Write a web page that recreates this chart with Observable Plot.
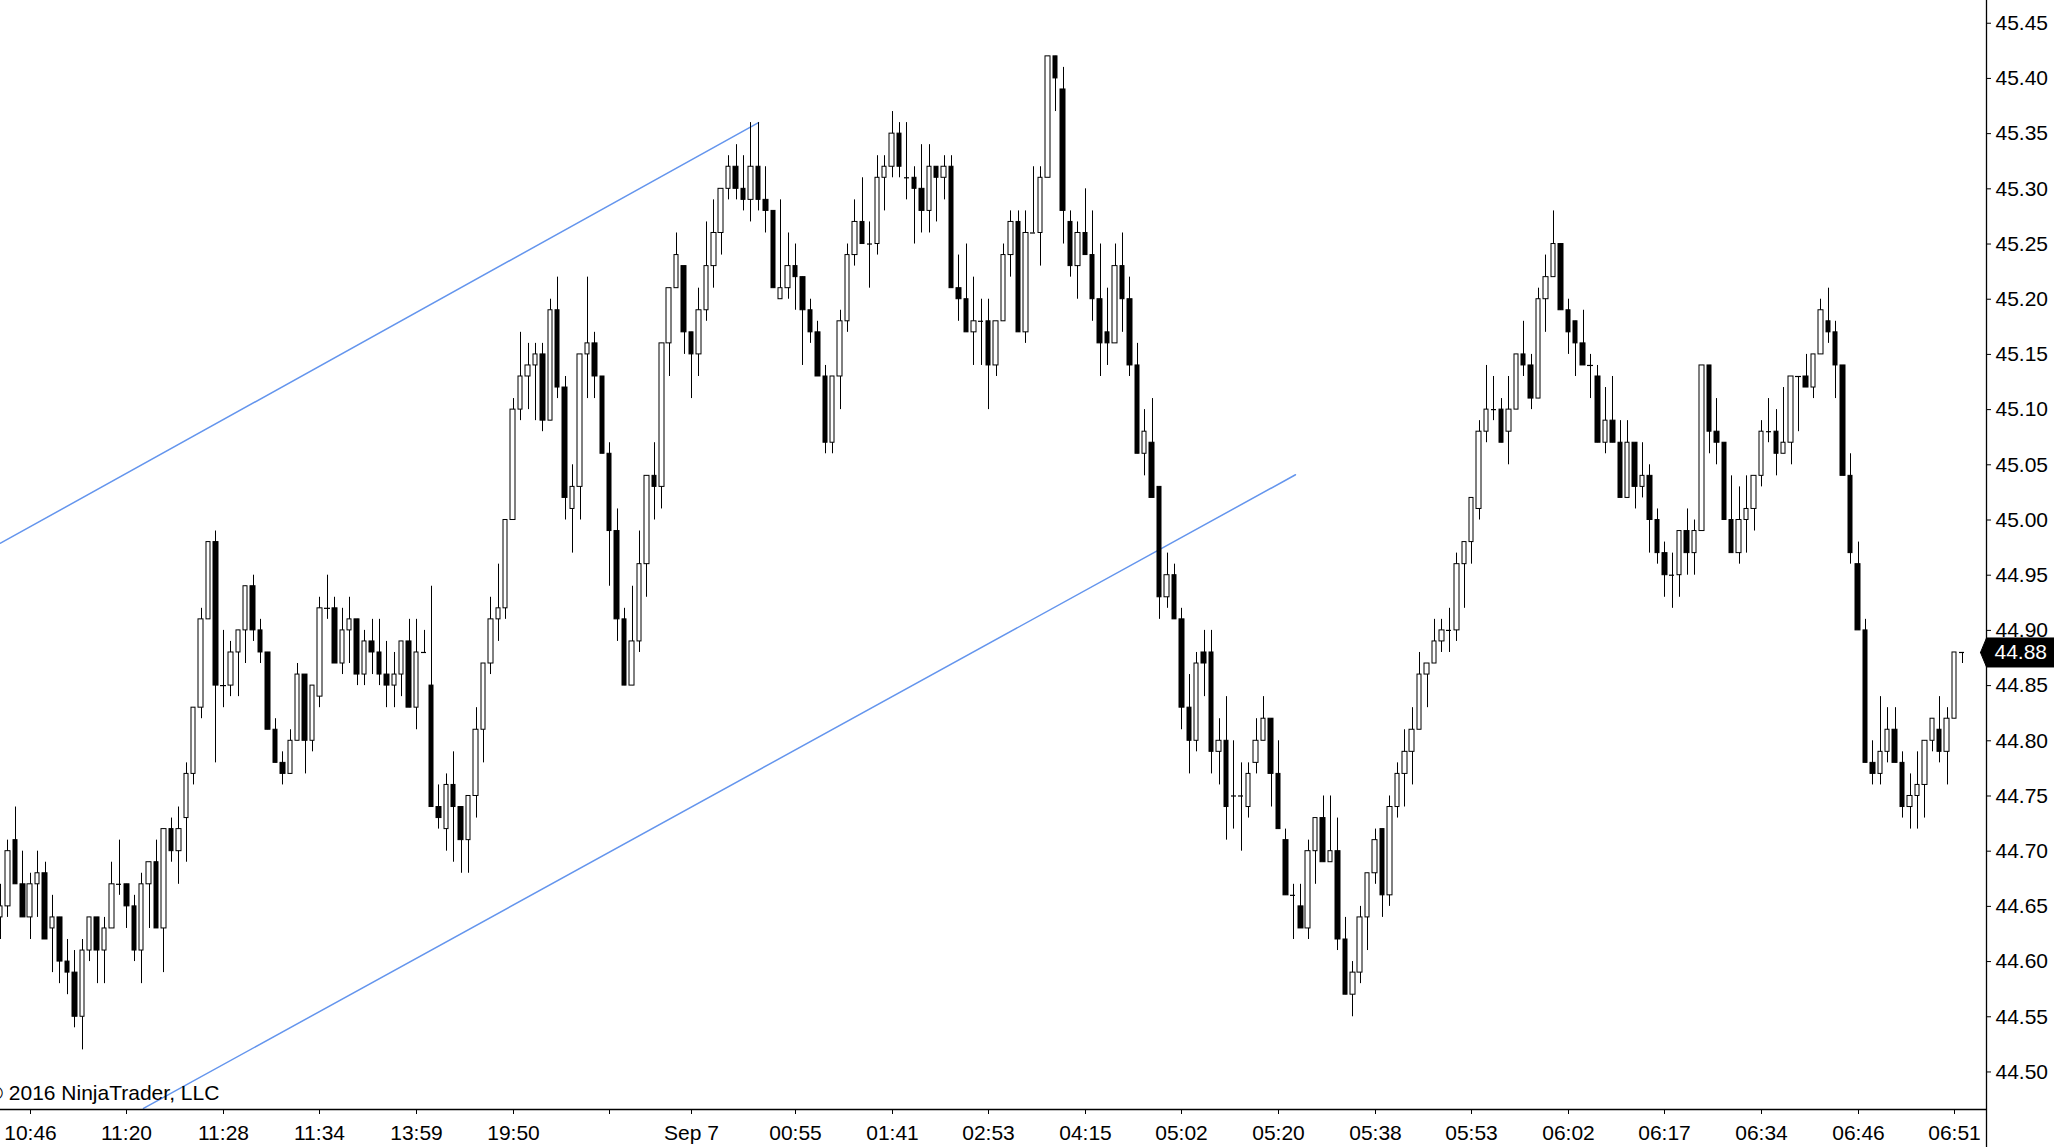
<!DOCTYPE html>
<html>
<head>
<meta charset="utf-8">
<script src="https://cdn.jsdelivr.net/npm/d3@7"></script>
<script src="https://cdn.jsdelivr.net/npm/@observablehq/plot@0.6"></script>
<style>
  html, body { margin: 0; padding: 0; background: #fff; }
  #chart svg { display: block; }
</style>
</head>
<body>
<div id="chart"></div>
<script>
// ---- Candle data (bar index = position in arrays) ----
const opens = [44.64,44.65,44.71,44.67,44.64,44.67,44.68,44.63,44.64,44.60,44.59,44.55,44.61,44.64,44.61,44.63,44.67,44.67,44.65,44.61,
44.67,44.69,44.63,44.72,44.70,44.73,44.77,44.83,44.91,44.98,44.85,44.85,44.88,44.90,44.94,44.90,44.88,44.81,44.78,44.77,
44.80,44.86,44.80,44.84,44.92,44.92,44.87,44.90,44.91,44.86,44.89,44.88,44.86,44.85,44.86,44.89,44.83,44.88,44.85,44.74,
44.72,44.76,44.74,44.71,44.75,44.81,44.87,44.91,44.92,45.00,45.10,45.13,45.14,45.15,45.09,45.19,45.12,45.01,45.03,45.15,
45.16,45.13,45.06,44.99,44.91,44.85,44.89,44.96,45.04,45.03,45.16,45.21,45.23,45.17,45.15,45.19,45.23,45.26,45.30,45.32,
45.30,45.29,45.32,45.29,45.28,45.20,45.21,45.23,45.22,45.19,45.17,45.13,45.07,45.13,45.18,45.24,45.27,45.25,45.25,45.31,
45.32,45.35,45.31,45.31,45.30,45.28,45.32,45.31,45.32,45.21,45.20,45.17,45.18,45.18,45.14,45.18,45.24,45.27,45.17,45.26,
45.26,45.31,45.42,45.39,45.27,45.23,45.26,45.24,45.20,45.17,45.16,45.23,45.20,45.14,45.06,45.07,45.03,44.93,44.95,44.91,
44.83,44.80,44.88,44.88,44.79,44.80,44.75,44.75,44.74,44.78,44.80,44.82,44.77,44.71,44.66,44.65,44.63,44.70,44.73,44.69,
44.70,44.62,44.57,44.59,44.64,44.68,44.72,44.66,44.74,44.77,44.79,44.81,44.86,44.87,44.89,44.90,44.90,44.96,44.98,45.01,
45.08,45.10,45.10,45.08,45.10,45.15,45.14,45.11,45.20,45.22,45.25,45.19,45.18,45.16,45.14,45.13,45.07,45.09,45.07,45.02,
45.07,45.03,45.04,45.00,44.97,44.95,44.95,44.99,44.97,44.99,45.14,45.08,45.07,45.00,44.97,45.00,45.01,45.04,45.08,45.08,
45.06,45.07,45.13,45.13,45.12,45.15,45.18,45.17,45.14,45.04,44.96,44.90,44.78,44.77,44.79,44.81,44.78,44.74,44.75,44.76,
44.80,44.81,44.79,44.82,44.88];
const highs = [44.67,44.71,44.74,44.70,44.68,44.70,44.69,44.66,44.64,44.62,44.61,44.62,44.64,44.64,44.64,44.69,44.71,44.67,44.66,44.68,
44.69,44.71,44.72,44.73,44.74,44.78,44.83,44.92,44.98,44.99,44.90,44.89,44.90,44.94,44.95,44.91,44.88,44.82,44.79,44.81,
44.87,44.86,44.85,44.93,44.95,44.93,44.92,44.93,44.91,44.90,44.91,44.91,44.89,44.88,44.89,44.91,44.91,44.90,44.94,44.76,
44.77,44.79,44.74,44.75,44.83,44.87,44.93,44.96,45.00,45.11,45.17,45.16,45.16,45.16,45.20,45.22,45.13,45.05,45.15,45.22,
45.17,45.13,45.07,45.01,44.92,44.94,44.99,45.04,45.07,45.16,45.21,45.26,45.23,45.17,45.21,45.27,45.29,45.30,45.33,45.34,
45.33,45.36,45.36,45.32,45.28,45.29,45.26,45.25,45.22,45.20,45.18,45.14,45.13,45.19,45.25,45.29,45.31,45.27,45.33,45.33,
45.37,45.36,45.36,45.32,45.34,45.34,45.32,45.33,45.33,45.24,45.25,45.22,45.20,45.20,45.18,45.25,45.28,45.28,45.28,45.32,
45.32,45.42,45.42,45.41,45.28,45.27,45.30,45.28,45.25,45.21,45.25,45.26,45.22,45.16,45.10,45.11,45.03,44.97,44.96,44.92,
44.86,44.88,44.90,44.90,44.82,44.84,44.80,44.78,44.78,44.82,44.84,44.82,44.80,44.72,44.67,44.67,44.71,44.73,44.75,44.75,
44.73,44.64,44.60,44.65,44.68,44.72,44.72,44.75,44.78,44.81,44.83,44.88,44.87,44.91,44.91,44.92,44.97,44.98,45.02,45.09,
45.14,45.13,45.11,45.13,45.15,45.18,45.15,45.21,45.24,45.28,45.25,45.20,45.18,45.19,45.15,45.14,45.12,45.13,45.09,45.09,
45.07,45.07,45.05,45.01,44.98,44.97,44.99,45.01,45.00,45.14,45.14,45.11,45.07,45.04,45.03,45.04,45.04,45.09,45.11,45.10,
45.12,45.13,45.13,45.15,45.15,45.20,45.21,45.18,45.14,45.06,44.98,44.91,44.80,44.84,44.83,44.83,44.79,44.77,44.79,44.80,
44.82,44.84,44.83,44.88,44.88];
const lows = [44.62,44.64,44.67,44.64,44.62,44.64,44.62,44.59,44.58,44.57,44.54,44.52,44.60,44.58,44.58,44.63,44.66,44.63,44.60,44.58,
44.63,44.63,44.59,44.69,44.67,44.69,44.76,44.82,44.91,44.78,44.83,44.84,44.84,44.87,44.89,44.87,44.81,44.78,44.76,44.77,
44.80,44.77,44.79,44.83,44.91,44.87,44.86,44.87,44.85,44.85,44.86,44.85,44.83,44.83,44.84,44.83,44.81,44.88,44.74,44.72,
44.70,44.69,44.68,44.68,44.73,44.78,44.86,44.89,44.91,45.00,45.09,45.10,45.09,45.08,45.09,45.11,45.00,44.97,45.00,45.11,
45.11,45.06,44.94,44.89,44.85,44.85,44.88,44.93,45.00,45.01,45.13,45.21,45.15,45.11,45.13,45.18,45.21,45.24,45.29,45.29,
45.28,45.27,45.28,45.26,45.21,45.20,45.20,45.19,45.14,45.16,45.13,45.06,45.06,45.10,45.17,45.23,45.25,45.21,45.24,45.28,
45.31,45.31,45.29,45.25,45.26,45.26,45.27,45.29,45.21,45.18,45.17,45.14,45.14,45.10,45.13,45.18,45.22,45.17,45.16,45.26,
45.23,45.31,45.37,45.25,45.22,45.20,45.24,45.18,45.13,45.14,45.16,45.17,45.13,45.06,45.04,45.02,44.91,44.92,44.91,44.81,
44.77,44.79,44.84,44.77,44.76,44.71,44.72,44.70,44.73,44.77,44.80,44.74,44.72,44.66,44.62,44.63,44.62,44.67,44.69,44.69,
44.61,44.57,44.55,44.58,44.61,44.67,44.64,44.65,44.73,44.74,44.76,44.81,44.83,44.87,44.88,44.88,44.89,44.92,44.96,45.00,
45.07,45.09,45.07,45.05,45.10,45.13,45.10,45.11,45.17,45.22,45.19,45.15,45.13,45.14,45.11,45.07,45.06,45.07,45.02,45.02,
45.01,45.02,44.97,44.96,44.93,44.92,44.93,44.95,44.95,44.99,45.06,45.05,45.00,44.97,44.96,44.97,44.99,45.03,45.07,45.04,
45.06,45.05,45.08,45.12,45.11,45.15,45.16,45.11,45.04,44.96,44.90,44.78,44.76,44.76,44.78,44.78,44.73,44.72,44.72,44.73,
44.79,44.78,44.76,44.82,44.87];
const closes = [44.65,44.70,44.67,44.64,44.67,44.68,44.62,44.64,44.60,44.59,44.55,44.61,44.64,44.61,44.63,44.67,44.67,44.65,44.61,44.67,
44.69,44.63,44.72,44.70,44.72,44.77,44.83,44.91,44.98,44.85,44.85,44.88,44.90,44.94,44.90,44.88,44.81,44.78,44.77,44.80,
44.86,44.80,44.85,44.92,44.92,44.87,44.90,44.91,44.86,44.89,44.88,44.86,44.85,44.86,44.89,44.83,44.88,44.88,44.74,44.73,
44.76,44.74,44.71,44.75,44.81,44.87,44.91,44.92,45.00,45.10,45.13,45.14,45.15,45.09,45.19,45.12,45.02,45.03,45.15,45.16,
45.13,45.06,44.99,44.91,44.85,44.89,44.96,45.04,45.03,45.16,45.21,45.24,45.17,45.15,45.19,45.23,45.26,45.30,45.32,45.30,
45.29,45.32,45.29,45.28,45.21,45.21,45.23,45.22,45.19,45.17,45.13,45.07,45.13,45.18,45.24,45.27,45.25,45.25,45.31,45.32,
45.35,45.32,45.31,45.30,45.28,45.32,45.31,45.32,45.21,45.20,45.17,45.18,45.18,45.14,45.18,45.24,45.27,45.17,45.26,45.26,
45.31,45.42,45.40,45.28,45.23,45.26,45.24,45.20,45.16,45.16,45.23,45.20,45.14,45.06,45.08,45.02,44.93,44.95,44.91,44.83,
44.80,44.87,44.87,44.79,44.80,44.74,44.75,44.75,44.77,44.80,44.82,44.77,44.72,44.66,44.66,44.63,44.70,44.73,44.69,44.70,
44.62,44.57,44.59,44.64,44.68,44.71,44.66,44.74,44.77,44.79,44.81,44.86,44.87,44.89,44.90,44.90,44.96,44.98,45.02,45.08,
45.10,45.10,45.07,45.10,45.15,45.14,45.11,45.20,45.22,45.25,45.19,45.17,45.16,45.14,45.14,45.07,45.09,45.07,45.02,45.07,
45.03,45.04,45.00,44.97,44.95,44.95,44.99,44.97,44.99,45.14,45.08,45.07,45.00,44.97,45.00,45.01,45.04,45.08,45.08,45.06,
45.07,45.13,45.13,45.12,45.15,45.19,45.17,45.14,45.04,44.97,44.90,44.78,44.77,44.79,44.81,44.78,44.74,44.75,44.76,44.80,
44.82,44.79,44.82,44.88,44.88];

// ---- Axis ticks ----
const timeTickBars = [4,17,30,43,56,69,82,93,107,120,133,146,159,172,185,198,211,224,237,250,263];
const timeTickLabels = ["10:46","11:20","11:28","11:34","13:59","19:50","","Sep 7","00:55","01:41","02:53","04:15","05:02","05:20","05:38","05:53","06:02","06:17","06:34","06:46","06:51"];
const priceTicks = [44.50,44.55,44.60,44.65,44.70,44.75,44.80,44.85,44.90,44.95,45.00,45.05,45.10,45.15,45.20,45.25,45.30,45.35,45.40,45.45];

// ---- Drawn channel lines (bar index, price) ----
const channelUpper = [{bar: 0, price: 44.979}, {bar: 102, price: 45.36}];
const channelLower = [{bar: 19.3, price: 44.467}, {bar: 174.3, price: 45.041}];

const lastPrice = closes[closes.length - 1];
const copyright = "© 2016 NinjaTrader, LLC";

// ---- Build table ----
const bars = opens.map((o, i) => ({i, o, h: highs[i], l: lows[i], c: closes[i]}));
const bodies = bars.filter(d => d.o !== d.c);
const dojis = bars.filter(d => d.o === d.c);
const labelOf = new Map(timeTickBars.map((b, k) => [b, timeTickLabels[k]]));

const W = 2054, H = 1147, mR = 68, mB = 38;
const xMax = 267.29;              // bars visible across the plot frame
const yMin = 44.466, yMax = 45.4706;
const unitsPerPx = (yMax - yMin) / (H - mB);
const xUnitsPerPx = xMax / (W - mR);
const half = 0.3;

// price marker polygon (arrow box on the axis)
const boxH = 14.5 * unitsPerPx;
const marker = [
  {x: xMax - 6 * xUnitsPerPx, y: lastPrice},
  {x: xMax, y: lastPrice + boxH},
  {x: xMax + mR * xUnitsPerPx, y: lastPrice + boxH},
  {x: xMax + mR * xUnitsPerPx, y: lastPrice - boxH},
  {x: xMax, y: lastPrice - boxH},
  {x: xMax - 6 * xUnitsPerPx, y: lastPrice}
];

const chart = Plot.plot({
  width: W,
  height: H,
  marginLeft: 0,
  marginRight: mR,
  marginTop: 0,
  marginBottom: mB,
  style: {fontFamily: "'Liberation Sans', Arial, sans-serif", fontSize: "21px", background: "#fff", color: "#000"},
  x: {type: "linear", domain: [0, xMax], round: true},
  y: {type: "linear", domain: [yMin, yMax]},
  marks: [
    // channel lines
    Plot.line(channelUpper, {x: "bar", y: "price", stroke: "#6495ed", strokeWidth: 1.5}),
    Plot.line(channelLower, {x: "bar", y: "price", stroke: "#6495ed", strokeWidth: 1.5}),
    // wicks
    Plot.ruleX(bars, {x: "i", y1: "l", y2: "h", stroke: "#000", strokeWidth: 1}),
    // bodies
    Plot.rect(bodies, {
      x1: d => d.i - half, x2: d => d.i + half,
      y1: "o", y2: "c",
      fill: d => (d.c > d.o ? "#ffffff" : "#000000"),
      stroke: "#000", strokeWidth: 1
    }),
    // doji bars
    Plot.ruleY(dojis, {y: "o", x1: d => d.i - half - 0.05, x2: d => d.i + half + 0.05, stroke: "#000", strokeWidth: 1.2}),
    // axis lines
    Plot.ruleY([yMin], {stroke: "#000", strokeWidth: 1.3}),
    Plot.ruleX([xMax], {y1: yMax, y2: yMin - mB * unitsPerPx, stroke: "#000", strokeWidth: 1.3}),
    // axes
    Plot.axisY(priceTicks, {anchor: "right", tickSize: 4, tickPadding: 5, tickFormat: d3.format(".2f"), fontSize: 21}),
    Plot.axisX(timeTickBars, {anchor: "bottom", tickSize: 5, tickPadding: 11, tickFormat: d => labelOf.get(d), fontSize: 21}),
    // copyright (partly cut at the left edge, as in the original)
    Plot.text([copyright], {frameAnchor: "bottom-left", text: d => d, textAnchor: "start", dx: -13, dy: -10, fontSize: 21, fill: "#000"}),
    // last price marker
    Plot.line(marker, {x: "x", y: "y", fill: "#000", stroke: "#000", strokeWidth: 1}),
    Plot.text([lastPrice], {x: xMax + 8 * xUnitsPerPx, y: d => d, text: d => d.toFixed(2), textAnchor: "start", fill: "#fff", fontSize: 21})
  ]
});

document.getElementById("chart").appendChild(chart);
</script>
</body>
</html>
